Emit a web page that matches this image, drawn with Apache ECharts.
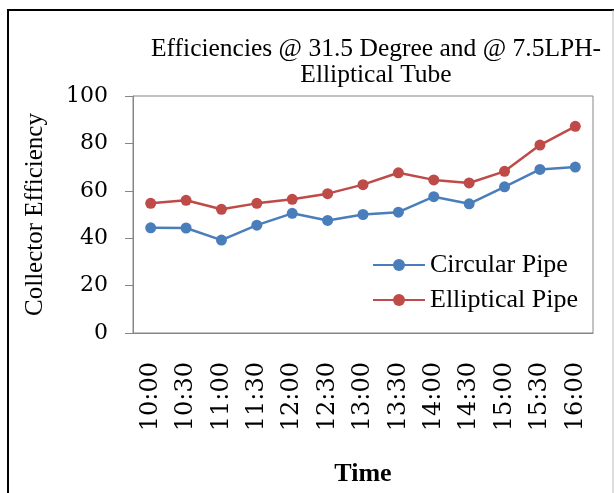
<!DOCTYPE html>
<html>
<head>
<meta charset="utf-8">
<script src="https://cdn.jsdelivr.net/npm/echarts@6/dist/echarts.min.js"></script>
<style>html,body{margin:0;padding:0;background:#fff;}#c{width:614px;height:493px;}</style>
</head>
<body>
<div id="c"></div>
<script>
var categories = ['10:00','10:30','11:00','11:30','12:00','12:30','13:00','13:30','14:00','14:30','15:00','15:30','16:00'];
var circularPipe = [44.4, 44.3, 39.2, 45.5, 50.5, 47.5, 50.0, 51.0, 57.5, 54.5, 61.7, 69.0, 70.0];
var ellipticalPipe = [54.7, 56.0, 52.2, 54.7, 56.4, 58.8, 62.6, 67.6, 64.6, 63.3, 68.2, 79.3, 87.2];
var yTicks = {min: 0, max: 100, interval: 20};
var FONT = 'Liberation Serif';
var NUMFONT = 'DejaVu Serif';

var chart = echarts.init(document.getElementById('c'), null, {renderer: 'canvas'});
chart.setOption({
  animation: false,
  backgroundColor: '#fff',
  title: {
    text: 'Efficiencies @ 31.5 Degree and @ 7.5LPH-\nElliptical Tube',
    left: 371, top: 31, textAlign: 'center',
    textStyle: {fontFamily: FONT, fontSize: 25.5, fontWeight: 'normal', color: '#000', lineHeight: 26}
  },
  graphic: [
    {type: 'line', shape: {x1: 8, y1: 10, x2: 8, y2: 493}, style: {stroke: '#000', lineWidth: 2}},
    {type: 'line', shape: {x1: 7, y1: 10, x2: 614, y2: 10}, style: {stroke: '#000', lineWidth: 2}},
    {type: 'line', shape: {x1: 613, y1: 10, x2: 613, y2: 493}, style: {stroke: '#bbb', lineWidth: 1}}
  ],
  legend: {
    orient: 'vertical',
    left: 367, top: 247,
    itemWidth: 52, itemHeight: 15, itemGap: 9,
    textStyle: {fontFamily: FONT, fontSize: 26, color: '#000'},
    data: ['Circular Pipe', 'Elliptical Pipe']
  },
  grid: {left: 133, top: 96, right: 21, bottom: 160, show: true, borderColor: '#868686', borderWidth: 1, containLabel: false},
  xAxis: {
    type: 'category', data: categories, boundaryGap: true,
    name: 'Time', nameLocation: 'middle', nameGap: 128,
    nameTextStyle: {fontFamily: FONT, fontSize: 26, fontWeight: 'bold', color: '#000'},
    axisLine: {lineStyle: {color: '#868686'}},
    axisTick: {show: false},
    axisLabel: {rotate: 90, margin: 29, fontFamily: NUMFONT, fontSize: 24, color: '#000'}
  },
  yAxis: {
    type: 'value', min: yTicks.min, max: yTicks.max, interval: yTicks.interval,
    name: 'Collector Efficiency', nameLocation: 'middle', nameGap: 85, nameRotate: 90,
    nameTextStyle: {fontFamily: FONT, fontSize: 25, color: '#000'},
    axisLine: {show: true, lineStyle: {color: '#868686'}},
    axisTick: {show: true, length: 8, lineStyle: {color: '#868686'}},
    splitLine: {show: false},
    axisLabel: {margin: 25, fontFamily: NUMFONT, fontSize: 22, color: '#000'}
  },
  series: [
    {name: 'Circular Pipe', type: 'line', data: circularPipe, symbol: 'circle', symbolSize: 11,
     itemStyle: {color: '#4a7ebb'}, lineStyle: {color: '#4a7ebb', width: 2.5}},
    {name: 'Elliptical Pipe', type: 'line', data: ellipticalPipe, symbol: 'circle', symbolSize: 11,
     itemStyle: {color: '#be4b48'}, lineStyle: {color: '#be4b48', width: 2.5}}
  ]
});
</script>
</body>
</html>
